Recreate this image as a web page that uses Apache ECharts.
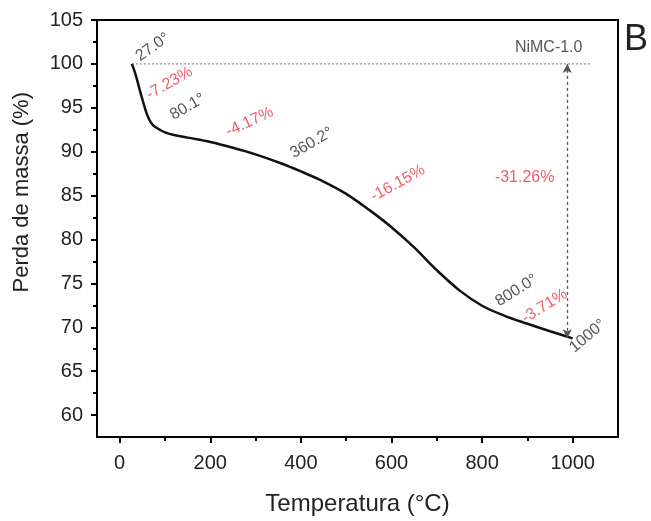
<!DOCTYPE html>
<html>
<head>
<meta charset="utf-8">
<script src="https://cdn.jsdelivr.net/npm/echarts@6/dist/echarts.min.js"></script>
<style>html,body{margin:0;padding:0;background:#fff;}#c{width:651px;height:521px;}</style>
</head>
<body>
<div id="c"></div>
<script>
// TGA curve data (Temperatura °C, Perda de massa %)
var temps = [27, 30, 35, 40, 45, 50, 55, 60, 65, 70, 75, 80.1, 90, 100, 120, 150, 200, 250, 300, 360.2, 400, 450, 500, 550, 600, 650, 700, 750, 800, 850, 900, 950, 1000];
var mass  = [100, 99.6, 98.8, 97.9, 96.9, 96.0, 95.1, 94.3, 93.7, 93.25, 92.95, 92.77, 92.45, 92.2, 91.9, 91.6, 91.1, 90.45, 89.7, 88.6, 87.75, 86.6, 85.2, 83.4, 81.4, 79.1, 76.5, 74.2, 72.45, 71.3, 70.4, 69.55, 68.74];

var xTicksMajor = [0, 200, 400, 600, 800, 1000];
var xTicksMinor = [100, 300, 500, 700, 900];
var yTicksMajor = [60, 65, 70, 75, 80, 85, 90, 95, 100, 105];
var yTicksMinor = [62.5, 67.5, 72.5, 77.5, 82.5, 87.5, 92.5, 97.5, 102.5];

// annotations
var annoText = ['27.0°', '-7.23%', '80.1°', '-4.17%', '360.2°', '-16.15%', '-31.26%', '800.0°', '-3.71%', '1000°', 'NiMC-1.0'];
var annoX    = [73, 110, 150, 287, 424, 614, 894, 876, 938, 1033, 947];
var annoY    = [101.9, 97.8, 95.1, 93.4, 91.0, 86.4, 87.0, 74.2, 72.4, 69.0, 101.9];
var annoRed  = [false, true, false, true, false, true, true, false, true, false, false];
var annoRot  = [35, 30, 30, 25, 30, 29, 0, 32, 32, 40, 0];

var refLevel = 100;
var refStartX = 27, refEndX = 1042;
var arrowX = 988, arrowTop = 100, arrowBottom = 68.74;

var curve = temps.map(function (t, i) { return [t, mass[i]]; });

var font = 'Liberation Sans, Arial, sans-serif';
var annoData = annoText.map(function (s, i) {
  return {
    value: [annoX[i], annoY[i]],
    label: {
      show: true, formatter: s, position: 'inside', rotate: annoRot[i],
      color: annoRed[i] ? '#ee3545' : '#2a2a2a', fontSize: 16,
      fontFamily: font
    }
  };
});

var chart = echarts.init(document.getElementById('c'));
chart.setOption({
  animation: false,
  backgroundColor: '#fff',
  grid: { left: 97, right: 33, top: 20, bottom: 84, show: true, borderColor: '#000', borderWidth: 2, backgroundColor: 'transparent' },
  xAxis: [{
    type: 'value', min: -50, max: 1100,
    name: 'Temperatura (°C)', nameLocation: 'middle', nameGap: 55,
    nameTextStyle: { fontSize: 24, color: '#222', fontFamily: font },
    axisLine: { show: true, onZero: false, lineStyle: { color: '#000', width: 2 } },
    axisTick: { show: true, inside: false, length: 6, customValues: xTicksMajor, lineStyle: { color: '#000', width: 2 } },
    axisLabel: { customValues: xTicksMajor, fontSize: 20, color: '#222', margin: 16, fontFamily: font,
      formatter: function (v) { return String(v); } },
    splitLine: { show: false }
  }, {
    type: 'value', min: -50, max: 1100, position: 'bottom',
    axisLine: { show: false, onZero: false },
    axisTick: { show: true, inside: false, length: 4, customValues: xTicksMinor, lineStyle: { color: '#000', width: 2 } },
    axisLabel: { show: false },
    splitLine: { show: false }
  }],
  yAxis: [{
    type: 'value', min: 57.5, max: 105,
    axisLine: { show: true, onZero: false, lineStyle: { color: '#000', width: 2 } },
    axisTick: { show: true, inside: false, length: 6, customValues: yTicksMajor, lineStyle: { color: '#000', width: 2 } },
    axisLabel: { customValues: yTicksMajor, fontSize: 20, color: '#222', margin: 14, fontFamily: font },
    splitLine: { show: false }
  }, {
    type: 'value', min: 57.5, max: 105, position: 'left',
    axisLine: { show: false, onZero: false },
    axisTick: { show: true, inside: false, length: 4, customValues: yTicksMinor, lineStyle: { color: '#000', width: 2 } },
    axisLabel: { show: false },
    splitLine: { show: false }
  }],
  graphic: [
    { type: 'text', left: 11, top: 92, rotation: Math.PI / 2,
      style: { text: 'Perda de massa (%)', fontSize: 22, fill: '#222', fontFamily: font } },
    { type: 'text', right: 3, top: 22,
      style: { text: 'B', fontSize: 36, fill: '#222', fontFamily: font } }
  ],
  series: [
    {
      type: 'line', data: [[refStartX, refLevel], [refEndX, refLevel]],
      symbol: 'none', silent: true,
      lineStyle: { color: '#888', width: 1.2, type: [2, 2] }, z: 1
    },
    {
      type: 'line', data: curve, smooth: 0.35, symbol: 'none',
      lineStyle: { color: '#111', width: 2.5 }, z: 3,
      markLine: {
        silent: true, symbol: ['arrow', 'arrow'], symbolSize: [7, 9],
        label: { show: false },
        lineStyle: { color: '#555', width: 1.3, type: [3, 3] },
        data: [[{ coord: [arrowX, arrowTop] }, { coord: [arrowX, arrowBottom] }]]
      }
    },
    {
      type: 'scatter', data: annoData, symbolSize: 1,
      itemStyle: { color: 'rgba(0,0,0,0)' }, silent: true, z: 5
    }
  ]
});
</script>
</body>
</html>
